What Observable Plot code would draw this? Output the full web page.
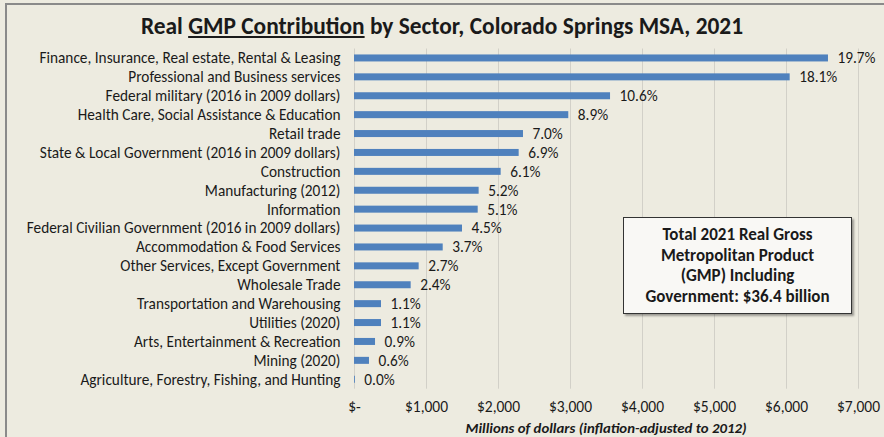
<!DOCTYPE html>
<html><head><meta charset="utf-8">
<script src="https://cdn.jsdelivr.net/npm/d3@7"></script>
<script src="https://cdn.jsdelivr.net/npm/@observablehq/plot@0.6"></script>
<style>
html,body{margin:0;padding:0;background:#EDEBE0;}
#wrap{position:relative;width:884px;height:437px;overflow:hidden;background:#EDEBE0;font-family:Carlito,Lato,"Open Sans",sans-serif;color:#1a1a1a;}
#frame{position:absolute;left:5px;top:3px;width:900px;height:460px;border-left:2px solid #8a8a8a;border-top:2px solid #8a8a8a;pointer-events:none;}
#title{height:44px;line-height:52px;text-align:center;font-weight:bold;font-size:23.4px;white-space:nowrap;}
#caption{height:19px;line-height:20px;font-style:italic;font-weight:bold;font-size:14.8px;position:absolute;left:304px;width:604px;text-align:center;top:418px;white-space:nowrap;}
#box{position:absolute;left:623px;top:217px;border:1px solid #333;background:#F9F8F5;box-shadow:2px 2px 2px rgba(0,0,0,0.35);text-align:center;font-weight:bold;font-size:17px;line-height:20.5px;padding-top:7px;box-sizing:border-box;height:97px;width:229px;white-space:nowrap;}
</style></head>
<body>
<div id="wrap">
<div id="frame"></div>
<div id="title">Real <u>GMP Contribution</u> by Sector, Colorado Springs MSA, 2021</div>
<div id="chart"></div>
<div id="caption">Millions of dollars (inflation-adjusted to 2012)</div>
<div id="box">Total 2021 Real Gross<br>Metropolitan Product<br>(GMP) Including<br>Government: $36.4 billion</div>
</div>
<script>
const sectors = [
  "Finance, Insurance, Real estate, Rental & Leasing",
  "Professional and Business services",
  "Federal military (2016 in 2009 dollars)",
  "Health Care, Social Assistance & Education",
  "Retail trade",
  "State & Local Government (2016 in 2009 dollars)",
  "Construction",
  "Manufacturing (2012)",
  "Information",
  "Federal Civilian Government (2016 in 2009 dollars)",
  "Accommodation & Food Services",
  "Other Services, Except Government",
  "Wholesale Trade",
  "Transportation and Warehousing",
  "Utilities (2020)",
  "Arts, Entertainment & Recreation",
  "Mining (2020)",
  "Agriculture, Forestry, Fishing, and Hunting"
];
const values = [6583, 6051, 3556, 2976, 2347, 2287, 2037, 1731, 1718, 1500, 1232, 898, 787, 375, 375, 292, 208, 12];
const shares = ["19.7%", "18.1%", "10.6%", "8.9%", "7.0%", "6.9%", "6.1%", "5.2%", "5.1%", "4.5%", "3.7%", "2.7%", "2.4%", "1.1%", "1.1%", "0.9%", "0.6%", "0.0%"];
const xTicks = [0, 1000, 2000, 3000, 4000, 5000, 6000, 7000];

const data = sectors.map((s, i) => ({sector: s, value: values[i], share: shares[i]}));
const fmt = d => d === 0 ? "$-" : "$" + d3.format(",")(d);
const FS = 15.3;

const chart = Plot.plot({
  width: 884,
  height: 374,
  marginLeft: 354,
  marginRight: 26,
  marginTop: 4.5,
  marginBottom: 29.3,
  x: {domain: [0, 7000], label: null},
  y: {domain: sectors, paddingInner: 0.63, paddingOuter: 0.315, round: false, label: null},
  style: {background: "transparent", fontFamily: "Carlito, Lato, 'Open Sans', sans-serif", fontSize: FS + "px", color: "#1a1a1a", overflow: "visible"},
  marks: [
    Plot.gridX(xTicks, {stroke: "#d2d0c8", strokeOpacity: 1}),
    Plot.barX(data, {x: "value", y: "sector", fill: "#4F81BD"}),
    Plot.text(data, {x: "value", y: "sector", text: "share", textAnchor: "start", dx: 9, fontSize: 15.3, fill: "#1a1a1a"}),
    Plot.axisX({ticks: xTicks, tickFormat: fmt, tickSize: 0, tickPadding: 12, fontSize: 15.5, label: null}),
    Plot.axisY({tickSize: 0, tickPadding: 14, fontSize: FS, label: null})
  ]
});
document.getElementById("chart").appendChild(chart);
</script>
</body></html>
